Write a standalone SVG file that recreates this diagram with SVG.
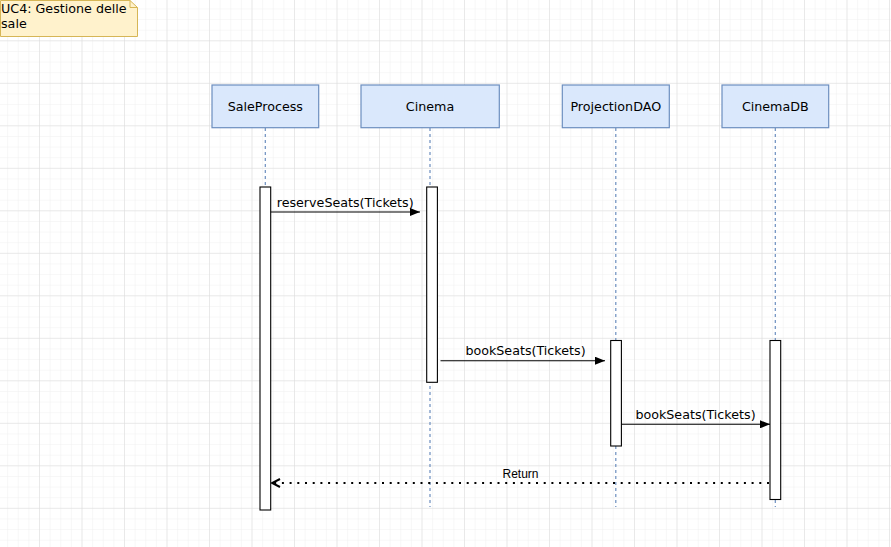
<svg xmlns="http://www.w3.org/2000/svg" width="891" height="547" viewBox="0 0 891 547">
<defs>
<pattern id="minor" patternUnits="userSpaceOnUse" x="-2.5" y="-1.2" width="10.625" height="10.625">
<path d="M10.625 0V10.625M0 10.625H10.625" fill="none" stroke="#f0f0f0" stroke-width="1"/>
</pattern>
<pattern id="major" patternUnits="userSpaceOnUse" x="-2.5" y="-1.2" width="42.5" height="42.5">
<path d="M42.5 0V42.5M0 42.5H42.5" fill="none" stroke="#dcdcdc" stroke-width="1"/>
</pattern>
<marker id="block" viewBox="0 0 10 8" refX="10" refY="4" markerWidth="10" markerHeight="8" markerUnits="userSpaceOnUse" orient="auto">
<path d="M0 0L10 4L0 8Z" fill="#000"/>
</marker>
<marker id="open" viewBox="0 0 10 10" refX="9" refY="5" markerWidth="10" markerHeight="10" markerUnits="userSpaceOnUse" orient="auto">
<path d="M1 1L9 5L1 9" fill="none" stroke="#000" stroke-width="2"/>
</marker>
</defs>
<style>
.head{fill:#dae8fc;stroke:#6c8ebf;stroke-width:1.2}
.life{stroke:#6c8ebf;stroke-width:1.2;stroke-dasharray:3 3;fill:none}
.act{fill:#fff;stroke:#000;stroke-width:1.1}
.t{font-family:"DejaVu Sans",Verdana,sans-serif;font-size:12.7px;fill:#000}
.msg{stroke:#000;stroke-width:1.1;fill:none}
.ret{stroke:#000;stroke-width:2;stroke-dasharray:2 5.7;fill:none}
</style>
<rect width="891" height="547" fill="#fff"/>
<rect width="891" height="547" fill="url(#minor)"/>
<rect width="891" height="547" fill="url(#major)"/>

<g id="note">
<path d="M0.5 0.5H130L137.5 7.5V36.5H0.5Z" fill="#fff2cc" stroke="#d6b656" stroke-width="1"/>
<path d="M130 0.5V7.5H137.5" fill="none" stroke="#d6b656" stroke-width="1"/>
<text class="t" x="1" y="13.3" font-size="12.8">UC4: Gestione delle</text>
<text class="t" x="1" y="27.5" font-size="12.8">sale</text>
</g>

<g id="connectors">
<line class="life" x1="265.3" y1="128" x2="265.3" y2="507"/>
<line class="life" x1="430" y1="128" x2="430" y2="507"/>
<line class="life" x1="615.8" y1="128" x2="615.8" y2="507"/>
<line class="life" x1="775.3" y1="128" x2="775.3" y2="507"/>
</g>

<g id="SaleProcess">
<rect class="head" x="212" y="85" width="106.7" height="42.7"/>
<text class="t" x="265.3" y="111" text-anchor="middle">SaleProcess</text>
<rect class="act" x="260" y="187" width="10.7" height="323"/>
</g>
<g id="Cinema">
<rect class="head" x="361" y="85" width="138.3" height="42.7"/>
<text class="t" x="430" y="111" text-anchor="middle">Cinema</text>
<rect class="act" x="426.7" y="187" width="10.7" height="195.3"/>
</g>
<g id="ProjectionDAO">
<rect class="head" x="562.3" y="85" width="107" height="42.7"/>
<text class="t" x="615.8" y="111" text-anchor="middle">ProjectionDAO</text>
<rect class="act" x="610.7" y="340.5" width="10.7" height="105.5"/>
</g>
<g id="CinemaDB">
<rect class="head" x="722" y="85" width="106.7" height="42.7"/>
<text class="t" x="775.3" y="111" text-anchor="middle">CinemaDB</text>
<rect class="act" x="770" y="340.5" width="10.7" height="159"/>
</g>

<g id="messages">
<line class="msg" x1="270.7" y1="212" x2="420" y2="212" marker-end="url(#block)"/>
<text class="t" x="345.2" y="207" text-anchor="middle">reserveSeats(Tickets)</text>
<line class="msg" x1="440.5" y1="360.7" x2="605" y2="360.7" marker-end="url(#block)"/>
<text class="t" x="525.5" y="354.5" text-anchor="middle">bookSeats(Tickets)</text>
<line class="msg" x1="621.4" y1="424.3" x2="770" y2="424.3" marker-end="url(#block)"/>
<text class="t" x="695.5" y="419" text-anchor="middle">bookSeats(Tickets)</text>
<line class="ret" x1="769" y1="483" x2="272" y2="483" marker-end="url(#open)"/>
<text x="520.5" y="477.7" text-anchor="middle" font-family="'Liberation Sans',Arial,sans-serif" font-size="12" fill="#000">Return</text>
</g>
</svg>
